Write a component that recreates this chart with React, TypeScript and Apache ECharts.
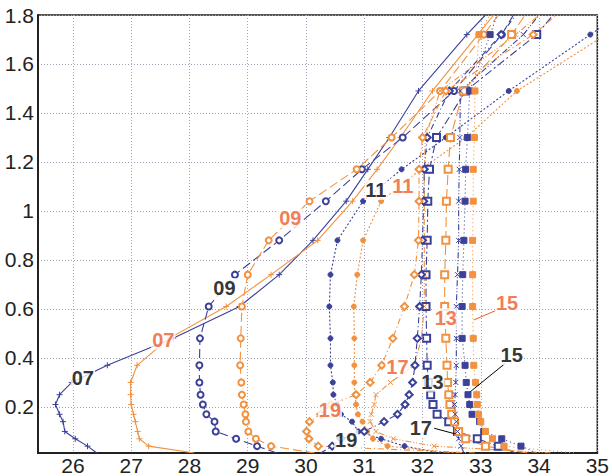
import React, { useEffect, useRef } from "react";
import * as echarts from "echarts";

const BLUE = "#3b4199";
const ORANGE = "#f2913f";
const LBL_ORANGE = "#ee5a2a";
const LBL_BLACK = "#000000";

// heights (y) shared by every profile; last value is where the line leaves the frame
const yLevels = [0.012, 0.04, 0.07, 0.1, 0.14, 0.17, 0.21, 0.25, 0.3, 0.37, 0.48, 0.61, 0.74, 0.88, 1.04, 1.17, 1.3, 1.49, 1.72, 1.8];

const xTicks = [26, 27, 28, 29, 30, 31, 32, 33, 34, 35];
const yTicks = [0.2, 0.4, 0.6, 0.8, 1, 1.2, 1.4, 1.6, 1.8];

// blue profiles
const blue07 = [26.41, 26.25, 26.04, 25.86, 25.83, 25.77, 25.7, 25.77, 25.98, 26.59, 27.72, 28.86, 29.54, 30.12, 30.69, 31.06, 31.43, 31.93, 32.76, 33.08];
const blue09 = [29.5, 29.16, 28.8, 28.45, 28.43, 28.29, 28.23, 28.19, 28.17, 28.17, 28.18, 28.33, 28.78, 29.54, 30.34, 30.96, 31.66, 32.54, 33.36, 33.56];
const blue11 = [32.3, 31.69, 31.29, 30.9, 30.79, 30.6, 30.53, 30.47, 30.46, 30.42, 30.42, 30.4, 30.42, 30.54, 30.98, 31.64, 32.4, 33.48, 34.88, 35.37];
const blue13 = [33.6, 33.3, 32.94, 32.6, 32.45, 32.25, 32.18, 32.14, 32.1, 32.08, 32.07, 32.06, 32.06, 32.08, 32.09, 32.12, 32.24, 32.74, 33.96, 34.24];
const blue15 = [33.96, 33.69, 33.36, 33.05, 32.98, 32.85, 32.81, 32.78, 32.75, 32.73, 32.68, 32.68, 32.69, 32.71, 32.73, 32.74, 32.77, 32.81, 33.16, 33.28];
const blue17 = [32.71, 32.66, 32.62, 32.6, 32.58, 32.56, 32.55, 32.56, 32.57, 32.58, 32.58, 32.58, 32.6, 32.62, 32.62, 32.63, 32.64, 32.65, 33.73, 34.0];
const blue19 = [30.25, 30.45, 30.6, 31.0, 31.34, 31.57, 31.7, 31.77, 31.83, 31.87, 31.91, 31.95, 31.98, 32.0, 32.02, 32.03, 32.08, 32.46, 33.35, 33.6];

// orange profiles
const orange07 = [28.08, 27.3, 27.14, 27.11, 27.07, 27.04, 27.0, 26.99, 26.99, 27.1, 27.65, 28.63, 29.4, 30.2, 30.8, 31.22, 31.62, 32.17, 32.95, 33.22];
const orange09 = [30.15, 29.4, 29.14, 29.01, 28.97, 28.96, 28.93, 28.9, 28.89, 28.87, 28.88, 28.9, 29.0, 29.36, 30.06, 30.87, 31.47, 32.3, 33.05, 33.3];
const orange11 = [32.6, 31.4, 31.15, 31.05, 30.97, 30.89, 30.86, 30.84, 30.83, 30.83, 30.83, 30.82, 30.88, 30.98, 31.29, 31.97, 32.75, 33.62, 35.15, 35.6];
const orange13 = [33.8, 33.08, 32.74, 32.62, 32.55, 32.5, 32.47, 32.45, 32.43, 32.42, 32.4, 32.38, 32.38, 32.4, 32.41, 32.44, 32.48, 32.7, 33.53, 33.76];
const orange15 = [34.6, 33.4, 33.2, 33.08, 33.0, 32.96, 32.94, 32.93, 32.91, 32.88, 32.87, 32.86, 32.86, 32.86, 32.87, 32.87, 32.89, 32.9, 32.97, 33.15];
const orange17 = [34.2, 32.2, 31.5, 31.2, 31.1, 31.12, 31.17, 31.2, 31.45, 31.86, 31.98, 32.03, 32.03, 32.03, 32.03, 32.03, 32.05, 32.3, 33.6, 34.0];
const orange19 = [32.9, 30.21, 30.05, 30.01, 30.06, 30.25, 30.43, 30.86, 31.1, 31.3, 31.49, 31.69, 31.86, 31.93, 31.94, 31.94, 32.0, 32.4, 33.9, 34.3];

// curve labels: text, x, y, colour key
const labelTexts = ["07", "07", "09", "09", "11", "11", "13", "13", "15", "15", "17", "17", "19", "19"];
const labelX = [26.17, 27.55, 28.6, 29.73, 31.2, 31.66, 32.17, 32.4, 33.53, 33.45, 31.97, 31.57, 30.69, 30.41];
const labelY = [0.32, 0.475, 0.685, 0.97, 1.086, 1.1, 0.303, 0.562, 0.412, 0.623, 0.113, 0.364, 0.065, 0.188];
const labelIsOrange = [false, true, false, true, false, true, false, true, false, true, false, true, false, true];

// leader lines [x1, y1, x2, y2]
const leaderBlack15 = [33.42, 0.378, 32.82, 0.262];
const leaderOrange15 = [33.28, 0.596, 32.88, 0.555];
const leaderBlack17 = [32.2, 0.113, 32.56, 0.09];

const PLUS = "path://M0,5H10M5,0V10";
const CROSS = "path://M1,1L9,9M9,1L1,9";

type Style = { symbol: string; size: number; dash: any };
const styles: Record<string, Style> = {
  "07": { symbol: PLUS, size: 6, dash: "solid" },
  "09": { symbol: "emptyCircle", size: 6, dash: [9, 4] },
  "11": { symbol: "circle", size: 5, dash: [2, 2] },
  "13": { symbol: "emptyRect", size: 7, dash: [8, 3, 2, 3] },
  "15": { symbol: "rect", size: 6, dash: [1, 3] },
  "17": { symbol: CROSS, size: 5, dash: [6, 2, 1, 2, 1, 2] },
  "19": { symbol: "emptyDiamond", size: 7, dash: [6, 3, 1, 3] },
};

function profile(name: string, xs: number[], color: string, key: string, dashOverride?: any) {
  const st = styles[key];
  const data = xs.map((x, i) => {
    const last = i === xs.length - 1;
    const first = i === 0;
    return {
      value: [x, yLevels[i]],
      symbol: last || first ? "none" : st.symbol,
    };
  });
  return {
    name,
    type: "line",
    data,
    symbol: st.symbol,
    symbolSize: st.size,
    showSymbol: true,
    clip: true,
    z: 3,
    lineStyle: { color, width: 1.1, type: dashOverride || st.dash },
    itemStyle: { color, borderColor: color, borderWidth: 1 },
    emphasis: { disabled: true },
  };
}

function leader(l: number[], color: string) {
  return {
    type: "line",
    data: [
      [l[0], l[1]],
      [l[2], l[3]],
    ],
    symbol: "none",
    z: 4,
    lineStyle: { color, width: 1 },
    emphasis: { disabled: true },
  };
}

const FONT = "Liberation Sans, Arial, sans-serif";

export default function App() {
  const ref = useRef<HTMLDivElement>(null);
  useEffect(() => {
    if (!ref.current) return;
    const chart = echarts.init(ref.current, undefined, { renderer: "svg" });
    const labelData = labelTexts.map((t, i) => ({
      name: t,
      value: [labelX[i], labelY[i]],
      label: { color: labelIsOrange[i] ? LBL_ORANGE : LBL_BLACK },
    }));
    const series: any[] = [
      profile("blue07", blue07, BLUE, "07"),
      profile("orange07", orange07, ORANGE, "07"),
      profile("blue09", blue09, BLUE, "09"),
      profile("orange09", orange09, ORANGE, "09"),
      profile("blue11", blue11, BLUE, "11"),
      profile("orange11", orange11, ORANGE, "11"),
      profile("blue13", blue13, BLUE, "13"),
      profile("orange13", orange13, ORANGE, "13", [10, 4]),
      profile("blue15", blue15, BLUE, "15"),
      profile("orange15", orange15, ORANGE, "15"),
      profile("blue17", blue17, BLUE, "17"),
      profile("orange17", orange17, ORANGE, "17"),
      profile("blue19", blue19, BLUE, "19"),
      profile("orange19", orange19, ORANGE, "19"),
      leader(leaderBlack15, LBL_BLACK),
      leader(leaderOrange15, LBL_ORANGE),
      leader(leaderBlack17, LBL_BLACK),
      {
        type: "scatter",
        data: labelData,
        symbolSize: 1,
        z: 10,
        itemStyle: { color: "rgba(0,0,0,0)" },
        label: {
          show: true,
          position: "inside",
          formatter: "{b}",
          fontFamily: FONT,
          fontSize: 20,
          fontWeight: "bold",
          backgroundColor: "#ffffff",
          padding: [0, 1],
        },
        emphasis: { disabled: true },
      },
    ];
    chart.setOption({
      animation: false,
      backgroundColor: "#ffffff",
      grid: {
        left: 38,
        right: 11,
        top: 15,
        bottom: 23,
        show: true,
        borderColor: "#222222",
        borderWidth: 1.5,
        backgroundColor: "transparent",
      },
      xAxis: {
        type: "value",
        min: 25.4,
        max: 35,
        axisLine: { show: true, onZero: false, lineStyle: { color: "#222222", width: 2 } },
        axisTick: { show: true, length: 0, customValues: xTicks },
        axisLabel: {
          customValues: xTicks,
          color: "#222222",
          fontSize: 21,
          margin: 2,
          fontFamily: FONT,
        },
        splitLine: { show: true, lineStyle: { color: "#9fa3b8", type: [1, 2], width: 1 } },
      },
      yAxis: {
        type: "value",
        min: 0.012,
        max: 1.8,
        axisLine: { show: true, onZero: false, lineStyle: { color: "#222222", width: 2 } },
        axisTick: { show: true, length: 0, customValues: yTicks },
        axisLabel: {
          customValues: yTicks,
          color: "#222222",
          fontSize: 21,
          margin: 4,
          fontFamily: FONT,
          formatter: (v: number) => String(Math.round(v * 10) / 10),
        },
        splitLine: { show: true, lineStyle: { color: "#9fa3b8", type: [1, 2], width: 1 } },
      },
      series,
    });
    return () => chart.dispose();
  }, []);
  return (
    <div
      ref={ref}
      style={{ position: "fixed", left: 0, top: 0, width: 612, height: 476, background: "#fff" }}
    />
  );
}
